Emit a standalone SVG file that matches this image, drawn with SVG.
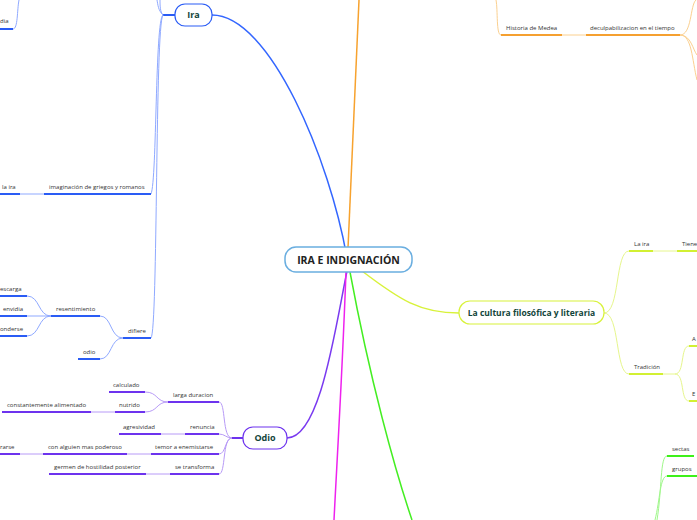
<svg xmlns="http://www.w3.org/2000/svg" width="697" height="520" viewBox="0 0 697 520">
<style>
.t{font-family:"Open Sans","DejaVu Sans",sans-serif;font-size:6px;fill:#333}
.n{font-family:"Open Sans","DejaVu Sans",sans-serif;font-weight:bold;fill:#12453a;text-anchor:middle}
path{fill:none}
.bu{stroke:#2a5cf5;stroke-width:2}
.bl{stroke:#8fa9ff;stroke-width:1}
.pu{stroke:#6d33ee;stroke-width:2}
.pl{stroke:#b79af7;stroke-width:1}
.ou{stroke:#f5a030;stroke-width:2}
.ol{stroke:#fbd08f;stroke-width:1}
.yu{stroke:#d2f032;stroke-width:2}
.yl{stroke:#e6f68c;stroke-width:1}
.gu{stroke:#3ef01a;stroke-width:2}
.gl{stroke:#9ff78a;stroke-width:1}
</style>
<g id="connectors">
<path d="M212,15 C270,15 330,160 347,258" stroke="#3366ff" stroke-width="1.5"/>
<path d="M348,248 L359,0" stroke="#f7a22e" stroke-width="1.5"/>
<path d="M287,438 C320,438 335,330 347,271" stroke="#7a3af0" stroke-width="1.5"/>
<path d="M362,271 C400,300 420,313 459,313" stroke="#d8f23a" stroke-width="1.5"/>
<path d="M350,272 C370,380 395,470 412,520" stroke="#44ee22" stroke-width="1.5"/>
<path d="M346,272 C342,380 337,460 334,520" stroke="#ee22ee" stroke-width="1.5"/>
<path class="bu" d="M163,15 H175"/>
<path class="bl" d="M163,15 C160,12 160,5 160,0"/>
<path class="bl" d="M163,15 C158,10 158,5 157,0"/>
<path class="bl" d="M163,15 C155,20 157,180 151,194"/>
<path class="bl" d="M163,15 C155,25 158,330 151,338"/>
<path class="bl" d="M13,29 C18,29 17,10 19,0"/>
<path class="bl" d="M20,194 H44"/>
<path class="bl" d="M123,338 C110,338 112,316 100,316"/>
<path class="bl" d="M123,338 C110,338 112,359 100,359"/>
<path class="bl" d="M51,316 C38,316 40,296 27,296"/>
<path class="bl" d="M51,316 H27"/>
<path class="bl" d="M51,316 C38,316 40,336 27,336"/>
<path class="pu" d="M232,438 H243"/>
<path class="pl" d="M232,438 C222,438 226,402 219,402"/>
<path class="pl" d="M232,438 C226,438 225,434 219,434"/>
<path class="pl" d="M232,438 C225,438 226,454 219,454"/>
<path class="pl" d="M232,438 C222,438 226,474 219,474"/>
<path class="pl" d="M168,402 C156,402 158,392 145,392"/>
<path class="pl" d="M168,402 C156,402 158,412 145,412"/>
<path class="pl" d="M91,412 H115"/>
<path class="pl" d="M161,434 H185"/>
<path class="pl" d="M127,454 H151"/>
<path class="pl" d="M20,454 H43"/>
<path class="pl" d="M146,474 H170"/>
<path class="ol" d="M501,35 C496,35 498,10 496,0"/>
<path class="ol" d="M562,35 H586"/>
<path class="ol" d="M680,35 C692,35 690,5 696,0"/>
<path class="ol" d="M680,35 C691,35 693,50 697,55"/>
<path class="ol" d="M680,35 C692,35 692,60 697,80"/>
<path class="yl" d="M604,313 C620,313 615,251 629,251"/>
<path class="yl" d="M604,313 C620,313 615,374 629,374"/>
<path class="yl" d="M653,251 H677"/>
<path class="yl" d="M663,374 H675"/>
<path class="yl" d="M675,374 C685,374 680,346 689,346"/>
<path class="yl" d="M675,374 C685,374 680,401 689,401"/>
<path class="gl" d="M667,456 C660,456 662,490 657,520"/>
<path class="gl" d="M667,476 C660,476 660,500 655,520"/>
</g>
<g id="center">
<rect x="285" y="247" width="127" height="25" rx="11" fill="#fff" stroke="#6aaee0" stroke-width="1.5"/>
<text class="n" x="348.5" y="263.5" font-size="10.5" style="fill:#222">IRA E INDIGNACIÓN</text>
</g>
<g id="ira">
<rect x="175" y="4" width="37" height="22" rx="10" fill="#fff" stroke="#2a5cf5" stroke-width="1.2"/>
<text class="n" x="193.5" y="18" font-size="9">Ira</text>
</g>
<g id="ira-dia"><path class="bu" d="M0,29 H13"/><text class="t" x="0" y="23">dia</text></g>
<g id="imaginacion"><path class="bu" d="M44,194 H151"/><text class="t" x="49" y="189">imaginación de griegos y romanos</text></g>
<g id="la-ira"><path class="bu" d="M0,194 H20"/><text class="t" x="2" y="189">la ira</text></g>
<g id="difiere"><path class="bu" d="M123,338 H151"/><text class="t" x="128" y="333">difiere</text></g>
<g id="resentimiento"><path class="bu" d="M51,316 H100"/><text class="t" x="56" y="311">resentimiento</text></g>
<g id="odio-leaf"><path class="bu" d="M78,359 H100"/><text class="t" x="83" y="354">odio</text></g>
<g id="descarga"><path class="bu" d="M0,296 H27"/><text class="t" x="0" y="291">escarga</text></g>
<g id="envidia"><path class="bu" d="M0,316 H27"/><text class="t" x="3" y="311">envidia</text></g>
<g id="esconderse"><path class="bu" d="M0,336 H27"/><text class="t" x="0" y="331">onderse</text></g>
<g id="odio">
<rect x="243" y="427" width="44" height="22" rx="10" fill="#fff" stroke="#6d33ee" stroke-width="1.2"/>
<text class="n" x="265" y="441" font-size="9">Odio</text>
</g>
<g id="larga"><path class="pu" d="M168,402 H219"/><text class="t" x="173" y="397">larga duracion</text></g>
<g id="calculado"><path class="pu" d="M109,392 H145"/><text class="t" x="113" y="387">calculado</text></g>
<g id="nutrido"><path class="pu" d="M115,412 H145"/><text class="t" x="119" y="407">nutrido</text></g>
<g id="constantemente"><path class="pu" d="M2,412 H91"/><text class="t" x="7" y="407">constantemente alimentado</text></g>
<g id="renuncia"><path class="pu" d="M185,434 H219"/><text class="t" x="190" y="429">renuncia</text></g>
<g id="agresividad"><path class="pu" d="M119,434 H161"/><text class="t" x="123" y="429">agresividad</text></g>
<g id="temor"><path class="pu" d="M151,454 H219"/><text class="t" x="155" y="449">temor a enemistarse</text></g>
<g id="alguien"><path class="pu" d="M43,454 H127"/><text class="t" x="48" y="449">con alguien mas poderoso</text></g>
<g id="retirarse"><path class="pu" d="M0,454 H20"/><text class="t" x="0" y="449">rarse</text></g>
<g id="transforma"><path class="pu" d="M170,474 H219"/><text class="t" x="175" y="469">se transforma</text></g>
<g id="germen"><path class="pu" d="M49,474 H146"/><text class="t" x="54" y="469">germen de hostilidad posterior</text></g>
<g id="medea"><path class="ou" d="M501,35 H562"/><text class="t" x="506" y="30">Historia de Medea</text></g>
<g id="deculpa"><path class="ou" d="M586,35 H680"/><text class="t" x="590" y="30">deculpabilizacion en el tiempo</text></g>
<g id="cultura">
<rect x="459" y="301" width="145" height="23" rx="11" fill="#fff" stroke="#d8f23a" stroke-width="1.2"/>
<text class="n" x="531.5" y="316" font-size="8.5">La cultura filosófica y literaria</text>
</g>
<g id="cult-ira"><path class="yu" d="M629,251 H653"/><text class="t" x="634" y="246">La ira</text></g>
<g id="tiene"><path class="yu" d="M677,251 H697"/><text class="t" x="682" y="246">Tiene</text></g>
<g id="tradicion"><path class="yu" d="M629,374 H663"/><text class="t" x="634" y="369">Tradición</text></g>
<g id="trad-a"><path class="yu" d="M689,346 H697"/><text class="t" x="692" y="341">A</text></g>
<g id="trad-e"><path class="yu" d="M689,401 H697"/><text class="t" x="692" y="396">E</text></g>
<g id="sectas"><path class="gu" d="M667,456 H694"/><text class="t" x="672" y="451">sectas</text></g>
<g id="grupos"><path class="gu" d="M667,476 H697"/><text class="t" x="672" y="471">grupos</text></g>
</svg>
